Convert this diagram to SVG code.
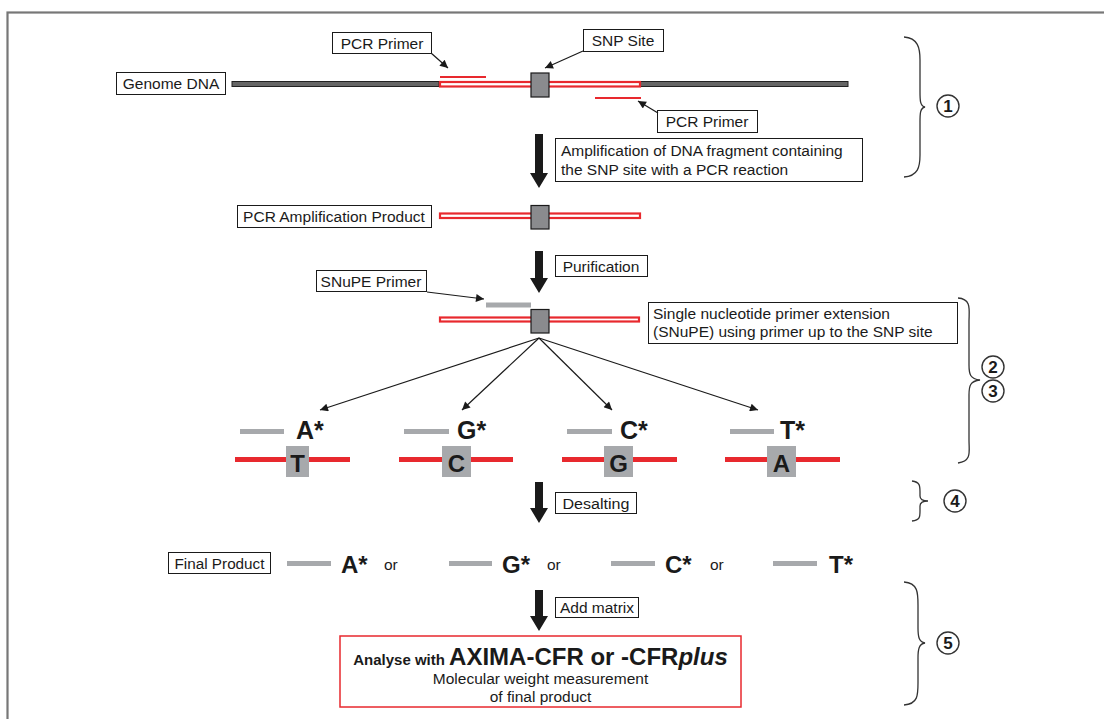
<svg xmlns="http://www.w3.org/2000/svg" width="1104" height="719" viewBox="0 0 1104 719">
<defs>
<style>
.t{font-family:"Liberation Sans",Arial,sans-serif;font-size:15.5px;fill:#1a1a1a}
.lb{fill:#fff;stroke:#1a1a1a;stroke-width:1}
.b{font-family:"Liberation Sans",Arial,sans-serif;font-weight:bold;fill:#1a1a1a}
.red{fill:#fff;stroke:#e8292e;stroke-width:2.2}
.rl{stroke:#e8292e;stroke-width:2.2}
.rt{stroke:#e8292e;stroke-width:5}
.gb{stroke:#a7a9ac;stroke-width:5}
.snp{fill:#8a8b8e;stroke:#1a1a1a;stroke-width:1.2}
.lbox{fill:#a7a9ac}
.thin{stroke:#1a1a1a;stroke-width:1.2;fill:none}
.br{stroke:#333;stroke-width:1.3;fill:none}
.big{fill:#1a1a1a}
.cir{fill:#fff;stroke:#333;stroke-width:1.4}
.num{font-family:"Liberation Sans",Arial,sans-serif;font-weight:bold;font-size:17px;fill:#1a1a1a}
</style>
<marker id="ah" viewBox="0 0 10 10" refX="10" refY="5" markerWidth="10" markerHeight="8" markerUnits="userSpaceOnUse" orient="auto">
<path d="M0,0 L10,5 L0,10 z" fill="#1a1a1a"/>
</marker>
</defs>

<rect x="7.5" y="12.5" width="1110" height="720" fill="none" stroke="#777" stroke-width="2.2"/>

<g id="genome">
<rect x="116.5" y="72.5" width="109" height="22" class="lb"/>
<text x="171" y="89" class="t" text-anchor="middle">Genome DNA</text>
<rect x="232" y="81.5" width="207" height="5" fill="#666" stroke="#222" stroke-width="1"/>
<rect x="640" y="81.5" width="208" height="5" fill="#666" stroke="#222" stroke-width="1"/>
<rect x="440" y="82" width="200" height="4.5" class="red"/>
<line x1="440" y1="77" x2="486" y2="77" class="rl"/>
<line x1="595" y1="98" x2="641" y2="98" class="rl"/>
<rect x="531" y="73" width="18" height="24" class="snp"/>
</g>

<g id="pcrprimer1">
<rect x="332.5" y="32.5" width="99" height="21" class="lb"/>
<text x="382" y="48.5" class="t" text-anchor="middle">PCR Primer</text>
</g>
<g id="snpsite">
<rect x="583.5" y="29.5" width="80" height="22" class="lb"/>
<text x="623" y="46" class="t" text-anchor="middle">SNP Site</text>
</g>
<g id="pcrprimer2">
<rect x="657.5" y="110.5" width="100" height="22" class="lb"/>
<text x="707" y="127" class="t" text-anchor="middle">PCR Primer</text>
</g>
<g id="amplification">
<rect x="555.5" y="138.5" width="307" height="43" class="lb"/>
<text x="561" y="156" class="t">Amplification of DNA fragment containing</text>
<text x="561" y="175" class="t">the SNP site with a PCR reaction</text>
</g>

<g id="pcrproduct">
<rect x="237.5" y="205.5" width="194" height="22" class="lb"/>
<text x="334" y="222" class="t" text-anchor="middle">PCR Amplification Product</text>
<rect x="440" y="213.5" width="200" height="4.5" class="red"/>
<rect x="531" y="205.5" width="18" height="23.5" class="snp"/>
</g>

<g id="purification">
<rect x="555.5" y="255.5" width="92" height="21" class="lb"/>
<text x="601" y="271.5" class="t" text-anchor="middle">Purification</text>
</g>

<g id="snupeprimer">
<rect x="316.5" y="270.5" width="110" height="21" class="lb"/>
<text x="371" y="286.5" class="t" text-anchor="middle">SNuPE Primer</text>
</g>

<g id="snupe">
<line x1="486" y1="305" x2="531" y2="305" class="gb" stroke-width="4"/>
<rect x="440" y="317.5" width="199" height="4" class="red"/>
<rect x="531" y="309.5" width="18" height="23.5" class="snp"/>
<rect x="648.5" y="302.5" width="309" height="41" class="lb"/>
<text x="653" y="319" class="t">Single nucleotide primer extension</text>
<text x="653" y="337" class="t">(SNuPE) using primer up to the SNP site</text>
</g>

<g id="baseA">
<line x1="240" y1="431.5" x2="284" y2="431.5" class="gb"/>
<text x="296" y="439" class="b" font-size="25">A*</text>
<line x1="235" y1="459.5" x2="350" y2="459.5" class="rt"/>
<rect x="286" y="446" width="23" height="31" class="lbox"/>
<text x="297.5" y="472" class="b" font-size="24" text-anchor="middle">T</text>
</g>
<g id="baseG">
<line x1="404" y1="431.5" x2="449" y2="431.5" class="gb"/>
<text x="457" y="439" class="b" font-size="25">G*</text>
<line x1="399" y1="459.5" x2="513" y2="459.5" class="rt"/>
<rect x="442" y="446" width="29" height="31" class="lbox"/>
<text x="456.5" y="472" class="b" font-size="24" text-anchor="middle">C</text>
</g>
<g id="baseC">
<line x1="567" y1="431.5" x2="612" y2="431.5" class="gb"/>
<text x="620" y="439" class="b" font-size="25">C*</text>
<line x1="562" y1="459.5" x2="677" y2="459.5" class="rt"/>
<rect x="604" y="446" width="29" height="31" class="lbox"/>
<text x="618.5" y="472" class="b" font-size="24" text-anchor="middle">G</text>
</g>
<g id="baseT">
<line x1="730" y1="431.5" x2="774" y2="431.5" class="gb"/>
<text x="780" y="439" class="b" font-size="25">T*</text>
<line x1="725" y1="459.5" x2="840" y2="459.5" class="rt"/>
<rect x="767" y="446" width="29" height="31" class="lbox"/>
<text x="781.5" y="472" class="b" font-size="24" text-anchor="middle">A</text>
</g>

<g id="desalting">
<rect x="555.5" y="492.5" width="81" height="21" class="lb"/>
<text x="596" y="508.5" class="t" text-anchor="middle" textLength="67" lengthAdjust="spacingAndGlyphs">Desalting</text>
</g>

<g id="finalproduct">
<rect x="168.5" y="552.5" width="102" height="21" class="lb"/>
<text x="219.5" y="568.5" class="t" text-anchor="middle" textLength="90" lengthAdjust="spacingAndGlyphs">Final Product</text>
<line x1="287" y1="563.5" x2="331" y2="563.5" class="gb"/>
<text x="341" y="573" class="b" font-size="24">A*</text>
<text x="384" y="570" class="t">or</text>
<line x1="449" y1="563.5" x2="492" y2="563.5" class="gb"/>
<text x="502" y="573" class="b" font-size="24">G*</text>
<text x="547" y="570" class="t">or</text>
<line x1="611" y1="563.5" x2="655" y2="563.5" class="gb"/>
<text x="665" y="573" class="b" font-size="24">C*</text>
<text x="710" y="570" class="t">or</text>
<line x1="773" y1="563.5" x2="817" y2="563.5" class="gb"/>
<text x="829" y="573" class="b" font-size="24">T*</text>
</g>

<g id="addmatrix">
<rect x="555.5" y="597.5" width="83" height="20" class="lb"/>
<text x="597" y="613" class="t" text-anchor="middle">Add matrix</text>
</g>

<g id="analyse">
<rect x="340" y="636" width="401" height="71" fill="#fff" stroke="#e8292e" stroke-width="1.5"/>
<text x="540.5" y="665" class="b" text-anchor="middle"><tspan font-size="15">Analyse with </tspan><tspan font-size="24">AXIMA-CFR or -CFR</tspan><tspan font-size="24" font-style="italic">plus</tspan></text>
<text x="540.5" y="684" class="t" text-anchor="middle">Molecular weight measurement</text>
<text x="540.5" y="702" class="t" text-anchor="middle">of final product</text>
</g>

<g id="step1">
<path d="M904,37 C918,38 920,48 920,60 L920,92 C920,100 920,106 925,107 C920,108 920,114 920,122 L920,155 C920,167 918,176 904,177" class="br"/>
<circle cx="948" cy="106" r="11" class="cir"/>
<text x="948" y="112" class="num" text-anchor="middle">1</text>
</g>
<g id="step23">
<path d="M958,298 C972,299 969,310 969,322 L969,365 C969,374 970,379 980,380 C970,381 969,386 969,395 L969,440 C969,452 972,461 958,463" class="br"/>
<circle cx="993" cy="367" r="11" class="cir"/>
<text x="993" y="373" class="num" text-anchor="middle">2</text>
<circle cx="993" cy="391" r="11" class="cir"/>
<text x="993" y="397" class="num" text-anchor="middle">3</text>
</g>
<g id="step4">
<path d="M912,481 C920,482 920,486 920,492 L920,496 C920,499 922,501 928,501 C922,501 920,503 920,506 L920,511 C920,517 920,520 912,521" class="br"/>
<circle cx="955" cy="501" r="11" class="cir"/>
<text x="955" y="507" class="num" text-anchor="middle">4</text>
</g>
<g id="step5">
<path d="M904,582 C918,583 918,593 918,605 L918,628 C918,637 919,642 925,643 C919,644 918,649 918,658 L918,683 C918,695 918,704 904,705" class="br"/>
<circle cx="948" cy="643" r="11" class="cir"/>
<text x="948" y="649" class="num" text-anchor="middle">5</text>
</g>

<g id="connectors">
<line x1="431" y1="53" x2="448" y2="68" class="thin" marker-end="url(#ah)"/>
<line x1="583" y1="51" x2="545" y2="68" class="thin" marker-end="url(#ah)"/>
<line x1="658" y1="113" x2="638" y2="101" class="thin" marker-end="url(#ah)"/>
<line x1="427" y1="292" x2="484" y2="299" class="thin" marker-end="url(#ah)"/>
<line x1="539" y1="338" x2="320" y2="410" class="thin" marker-end="url(#ah)"/>
<line x1="539" y1="338" x2="462" y2="410" class="thin" marker-end="url(#ah)"/>
<line x1="539" y1="338" x2="612" y2="410" class="thin" marker-end="url(#ah)"/>
<line x1="539" y1="338" x2="758" y2="410" class="thin" marker-end="url(#ah)"/>
<path d="M535,134 H543 V173 H548 L539,188 L530,173 H535 Z" class="big"/>
<path d="M535,251 H543 V278 H548 L539,293 L530,278 H535 Z" class="big"/>
<path d="M535,482 H543 V508 H548 L539,523 L530,508 H535 Z" class="big"/>
<path d="M535,590 H543 V616 H548 L539,631 L530,616 H535 Z" class="big"/>
</g>
</svg>
